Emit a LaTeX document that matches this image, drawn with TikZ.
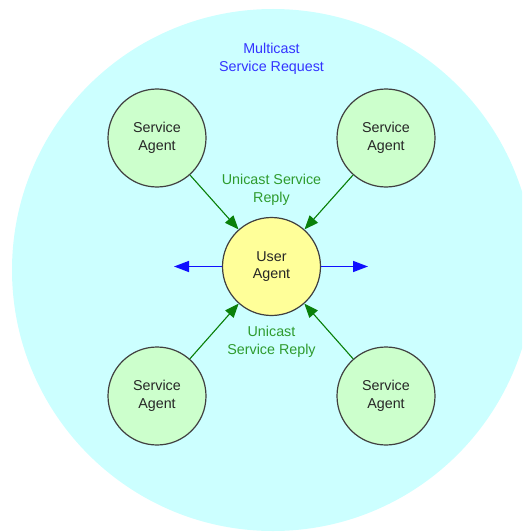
\documentclass[tikz,border=0pt]{standalone}
\usepackage{fontspec}
\setmainfont{Liberation Sans}
\usetikzlibrary{arrows.meta}
\definecolor{bgcyan}{HTML}{CCFFFF}
\definecolor{sagreen}{HTML}{CCFFCC}
\definecolor{uayellow}{HTML}{FFFF99}
\definecolor{rim}{HTML}{404040}
\definecolor{bluearrow}{HTML}{1010FF}
\definecolor{bluetext}{HTML}{3333FF}
\definecolor{greenarrow}{HTML}{0A800A}
\definecolor{greentext}{HTML}{2E9B2E}
\tikzset{
  agent/.style={circle, draw=rim, line width=1.2pt, minimum size=98pt, inner sep=0pt,
    align=center, font=\fontsize{14.3}{17.5}\selectfont, text=black!85},
  sa/.style={agent, fill=sagreen},
  ua/.style={agent, fill=uayellow},
  label/.style={align=center, font=\fontsize{14.3}{17.5}\selectfont},
  reply/.style={-{Triangle[length=14pt,width=11pt]}, draw=greenarrow, fill=greenarrow, line width=1.1pt},
  request/.style={-{Triangle[length=15pt,width=11pt]}, draw=bluearrow, fill=bluearrow, line width=1.5pt}
}
\begin{document}
\begin{tikzpicture}[x=1pt,y=-1pt]
\useasboundingbox (0,0) rectangle (522,532);
\begin{scope}
\clip (0,0) rectangle (522,532);
\fill[bgcyan] (273,270) circle[radius=261];
\end{scope}
\node[ua] (ua) at (271.5,266.5) {User\\Agent};
\node[sa] (sa1) at (157,138) {Service\\Agent};
\node[sa] (sa2) at (386,138) {Service\\Agent};
\node[sa] (sa3) at (157,396) {Service\\Agent};
\node[sa] (sa4) at (386,396) {Service\\Agent};
\coordinate (left) at (174,266.5);
\coordinate (right) at (368,266.5);
\draw[request] (ua.west) -- (left);
\draw[request] (ua.east) -- (right);
\draw[reply] (sa1) -- (ua);
\draw[reply] (sa2) -- (ua);
\draw[reply] (sa3) -- (ua);
\draw[reply] (sa4) -- (ua);
\node[label, text=bluetext] (mreq) at (271.5,59) {Multicast\\Service Request};
\node[label, text=greentext] (rep1) at (271.5,190) {Unicast Service\\Reply};
\node[label, text=greentext] (rep2) at (271.5,342) {Unicast\\Service Reply};
\end{tikzpicture}
\end{document}
